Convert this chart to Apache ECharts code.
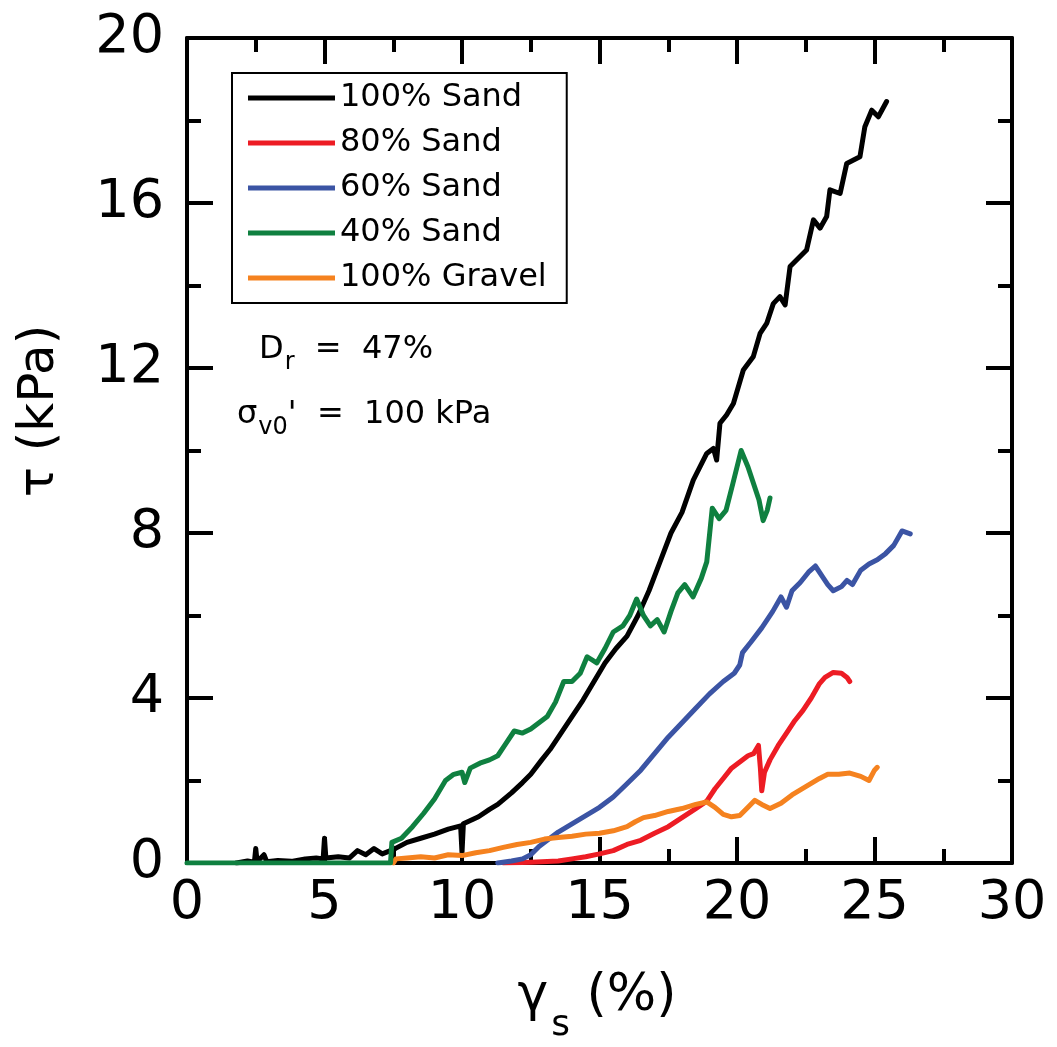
<!DOCTYPE html>
<html>
<head>
<meta charset="utf-8">
<script src="https://cdn.jsdelivr.net/npm/echarts@6/dist/echarts.min.js"></script>
<style>
  html, body { margin: 0; padding: 0; background: #fff; }
  #chart { width: 1057px; height: 1047px; }
</style>
</head>
<body>
<div id="chart"></div>
<script>
// ---- Data ----
const seriesNames = ['100% Sand', '80% Sand', '60% Sand', '40% Sand', '100% Gravel'];
const xTicks = { min: 0, max: 30, interval: 5 };
const yTicks = { min: 0, max: 20, interval: 4 };

const sand100 = [
  [1.8,0],[2.2,0.05],[2.45,0.02],[2.5,0.35],[2.55,0.03],[2.8,0.2],[2.9,0.03],[3.3,0.06],[3.8,0.04],[4.3,0.1],[4.7,0.12],
  [4.95,0.1],[5.0,0.6],[5.05,0.12],[5.5,0.15],[5.9,0.12],[6.2,0.3],[6.5,0.2],[6.8,0.35],[7.1,0.22],[7.4,0.3],
  [7.6,0.36],[8.0,0.5],[8.5,0.6],[9.0,0.7],[9.5,0.82],[9.95,0.9],[10.0,0.25],[10.05,0.95],[10.6,1.12],[11.0,1.3],
  [11.3,1.42],[11.8,1.7],[12.2,1.95],[12.5,2.15],[12.9,2.5],[13.2,2.75],[13.6,3.15],[14.0,3.55],[14.4,3.95],
  [14.8,4.4],[15.2,4.85],[15.6,5.2],[16.0,5.5],[16.4,6.0],[16.8,6.6],[17.2,7.3],[17.6,8.0],[18.0,8.5],[18.41,9.28],
  [18.9,9.93],[19.14,10.05],[19.26,9.77],[19.38,10.66],[19.62,10.86],[19.87,11.14],[20.23,11.95],[20.59,12.27],
  [20.84,12.84],[21.08,13.08],[21.32,13.56],[21.56,13.73],[21.75,13.53],[21.93,14.46],[22.53,14.86],[22.78,15.59],
  [23.02,15.39],[23.26,15.67],[23.38,16.32],[23.75,16.23],[23.99,16.96],[24.47,17.12],[24.65,17.85],[24.9,18.25],
  [25.14,18.09],[25.44,18.46]
];
const sand80 = [
  [11.5,0],[12.5,0.02],[13.5,0.05],[14.0,0.1],[14.5,0.15],[15.0,0.22],[15.5,0.3],[16.0,0.45],[16.5,0.55],
  [17.0,0.72],[17.5,0.88],[18.0,1.1],[18.5,1.32],[18.9,1.5],[19.2,1.8],[19.5,2.05],[19.8,2.3],[20.1,2.45],
  [20.4,2.6],[20.6,2.65],[20.78,2.85],[20.85,2.3],[20.9,1.75],[21.0,2.2],[21.2,2.5],[21.5,2.85],[21.8,3.15],
  [22.1,3.45],[22.4,3.7],[22.7,4.0],[23.0,4.35],[23.2,4.5],[23.5,4.62],[23.8,4.6],[24.0,4.5],[24.1,4.4]
];
const sand60 = [
  [11.3,0],[11.8,0.05],[12.2,0.1],[12.5,0.2],[12.8,0.4],[13.1,0.55],[13.5,0.75],[14.0,0.95],[14.5,1.15],
  [15.0,1.35],[15.5,1.6],[16.0,1.92],[16.5,2.25],[17.0,2.65],[17.5,3.05],[18.0,3.4],[18.5,3.75],[19.0,4.1],
  [19.5,4.4],[19.9,4.6],[20.1,4.8],[20.2,5.1],[20.5,5.35],[20.9,5.7],[21.3,6.1],[21.6,6.45],[21.8,6.2],
  [22.0,6.6],[22.3,6.8],[22.6,7.05],[22.85,7.2],[23.1,6.95],[23.3,6.75],[23.5,6.6],[23.8,6.7],[24.0,6.85],
  [24.2,6.75],[24.5,7.1],[24.8,7.25],[25.1,7.35],[25.4,7.5],[25.7,7.7],[26.0,8.05],[26.3,7.98]
];
const sand40 = [
  [0,0],[7.4,0],[7.45,0.5],[7.8,0.6],[8.2,0.88],[8.6,1.2],[9.0,1.55],[9.4,2.0],[9.7,2.15],[10.0,2.2],
  [10.1,1.95],[10.3,2.3],[10.65,2.42],[11.0,2.5],[11.3,2.6],[11.6,2.9],[11.9,3.2],[12.2,3.15],[12.5,3.25],
  [12.8,3.4],[13.1,3.55],[13.4,3.9],[13.7,4.4],[14.0,4.4],[14.3,4.6],[14.55,5.0],[14.9,4.85],[15.2,5.2],
  [15.5,5.6],[15.85,5.75],[16.1,6.0],[16.35,6.4],[16.6,6.0],[16.85,5.75],[17.1,5.9],[17.35,5.6],[17.6,6.1],
  [17.85,6.55],[18.1,6.75],[18.4,6.45],[18.7,6.9],[18.9,7.3],[19.1,8.6],[19.35,8.35],[19.6,8.55],[19.85,9.2],
  [20.15,10.0],[20.4,9.6],[20.6,9.2],[20.8,8.8],[20.95,8.3],[21.1,8.55],[21.2,8.85]
];
const gravel100 = [
  [7.5,0],[7.6,0.1],[8.0,0.12],[8.5,0.15],[9.0,0.12],[9.5,0.2],[10.0,0.18],[10.5,0.25],[11.0,0.3],[11.5,0.38],
  [12.0,0.45],[12.5,0.5],[13.0,0.58],[13.5,0.62],[14.0,0.65],[14.5,0.7],[15.0,0.72],[15.5,0.78],[16.0,0.88],
  [16.3,1.0],[16.6,1.1],[17.0,1.15],[17.5,1.25],[18.0,1.32],[18.5,1.42],[18.9,1.48],[19.2,1.35],[19.5,1.18],
  [19.8,1.12],[20.1,1.15],[20.4,1.35],[20.65,1.52],[20.9,1.42],[21.2,1.32],[21.6,1.45],[22.0,1.65],[22.5,1.85],
  [23.0,2.05],[23.3,2.15],[23.7,2.15],[24.1,2.18],[24.5,2.1],[24.8,2.0],[25.0,2.25],[25.1,2.32]
];

const seriesData = [sand100, sand80, sand60, sand40, gravel100];
const seriesColors = ['#000000', '#ed1c24', '#3b54a4', '#0f8040', '#f5821f'];
const drawOrder = [0, 1, 2, 4, 3];

const FONT = 'DejaVu Sans, Verdana, sans-serif';

const chart = echarts.init(document.getElementById('chart'), null, { renderer: 'canvas' });

function axisCommon(showLabel, isX) {
  return {
    type: 'value',
    min: isX ? xTicks.min : yTicks.min,
    max: isX ? xTicks.max : yTicks.max,
    interval: isX ? xTicks.interval : yTicks.interval,
    axisLine: { show: true, onZero: false, lineStyle: { color: '#000', width: 4 } },
    axisTick: { show: true, inside: true, length: 26, lineStyle: { color: '#000', width: 4 } },
    minorTick: { show: true, splitNumber: 2, length: 14, lineStyle: { color: '#000', width: 4 } },
    splitLine: { show: false },
    axisLabel: {
      show: showLabel,
      color: '#000',
      fontFamily: FONT,
      fontSize: 54,
      margin: isX ? 14 : 23
    }
  };
}

const option = {
  backgroundColor: '#fff',
  animation: false,
  grid: { left: 187, top: 38, width: 825, height: 825, containLabel: false },
  xAxis: [
    Object.assign(axisCommon(true, true), { position: 'bottom' }),
    Object.assign(axisCommon(false, true), { position: 'top' })
  ],
  yAxis: [
    Object.assign(axisCommon(true, false), { position: 'left' }),
    Object.assign(axisCommon(false, false), { position: 'right' })
  ],
  legend: {
    data: seriesNames,
    orient: 'vertical',
    left: 232,
    top: 73,
    padding: [9, 20, 9, 16],
    borderColor: '#000',
    borderWidth: 2,
    backgroundColor: '#fff',
    itemWidth: 87,
    itemHeight: 5,
    itemGap: 13,
    icon: 'rect',
    selectedMode: false,
    textStyle: { color: '#000', fontFamily: FONT, fontSize: 32, lineHeight: 32 }
  },
  series: drawOrder.map(function (i) {
    return {
      name: seriesNames[i],
      type: 'line',
      xAxisIndex: 0,
      yAxisIndex: 0,
      data: seriesData[i],
      color: seriesColors[i],
      showSymbol: false,
      symbol: 'none',
      smooth: false,
      lineStyle: { color: seriesColors[i], width: 5, cap: 'round', join: 'round' },
      z: 2
    };
  }),
  graphic: [
    {
      type: 'text',
      x: 40, y: 411,
      rotation: Math.PI / 2,
      style: {
        text: 'τ (kPa)',
        font: '50px ' + FONT,
        fill: '#000',
        align: 'center',
        verticalAlign: 'middle'
      }
    },
    {
      type: 'text',
      x: 597, y: 970,
      style: {
        text: '{m|γ}{s|s}{m| (%)}',
        fill: '#000',
        align: 'center',
        verticalAlign: 'top',
        rich: {
          m: { fontFamily: FONT, fontSize: 52, lineHeight: 60, verticalAlign: 'top', fill: '#000' },
          s: { fontFamily: FONT, fontSize: 36, lineHeight: 40, padding: [38, 0, 0, 3], verticalAlign: 'top', fill: '#000' }
        }
      }
    },
    {
      type: 'text',
      x: 259, y: 334,
      style: {
        text: '{m|D}{s|r}{m|  =  47%}',
        fill: '#000',
        align: 'left',
        verticalAlign: 'top',
        rich: {
          m: { fontFamily: FONT, fontSize: 32, lineHeight: 38, verticalAlign: 'top', fill: '#000' },
          s: { fontFamily: FONT, fontSize: 24, lineHeight: 26, padding: [17, 0, 0, 1], verticalAlign: 'top', fill: '#000' }
        }
      }
    },
    {
      type: 'text',
      x: 237, y: 399,
      style: {
        text: '{m|σ}{s|v0}{m|\'  =  100 kPa}',
        fill: '#000',
        align: 'left',
        verticalAlign: 'top',
        rich: {
          m: { fontFamily: FONT, fontSize: 32, lineHeight: 38, verticalAlign: 'top', fill: '#000' },
          s: { fontFamily: FONT, fontSize: 24, lineHeight: 26, padding: [17, 0, 0, 1], verticalAlign: 'top', fill: '#000' }
        }
      }
    }
  ]
};

chart.setOption(option);
</script>
</body>
</html>
